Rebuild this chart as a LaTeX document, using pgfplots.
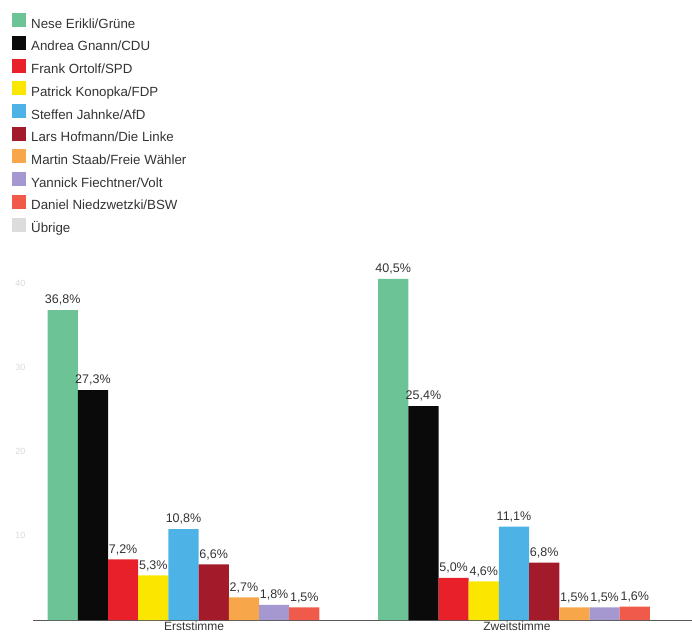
\documentclass[border=0pt]{standalone}
\usepackage{pgfplots}
\pgfplotsset{compat=1.18}
\usepackage{fontspec}
\setmainfont{Liberation Sans}

\definecolor{gruene}{HTML}{6CC396}
\definecolor{cdu}{HTML}{0A0A0A}
\definecolor{spd}{HTML}{E8202A}
\definecolor{fdp}{HTML}{FBE600}
\definecolor{afd}{HTML}{4DB3E6}
\definecolor{linke}{HTML}{A31B2B}
\definecolor{fw}{HTML}{F7A64A}
\definecolor{volt}{HTML}{A597CF}
\definecolor{bsw}{HTML}{EF5A4A}
\definecolor{uebrige}{HTML}{DCDCDC}
\definecolor{txt}{HTML}{333333}

\begin{document}
\begin{tikzpicture}
\begin{axis}[
    scale only axis,
    width=659pt, height=360pt,
    xmin=-0.4554, xmax=1.5386,
    ymin=0, ymax=42.75,
    ybar=0pt,
    bar width=30.2pt,
    clip=false,
    /pgf/number format/assume math mode=true,
    axis x line=bottom,
    axis y line=left,
    x axis line style={draw=black!65, line width=1pt, -},
    y axis line style={draw=none},
    major tick length=0pt,
    xtick={0.032,1.009},
    xticklabels={Erststimme, Zweitstimme},
    xticklabel style={font=\fontsize{12}{12}\selectfont, text=txt, yshift=2pt},
    ytick={10,20,30,40},
    yticklabel style={font=\fontsize{9}{9}\selectfont, text=black!15},
    yticklabel shift=4pt,
    nodes near coords={\pgfmathprintnumber[use comma,fixed,fixed zerofill,precision=1,assume math mode=true]{\pgfplotspointmeta}\%},
    every node near coord/.append style={font=\fontsize{12.5}{12.5}\selectfont, text=txt, yshift=1pt},
    legend cell align=left,
    legend image code/.code={\fill[#1] (0pt,-2.5pt) rectangle (14pt,11.5pt); \path (18pt,0pt);},
    legend style={
        at={(axis description cs:-0.0319,1.686)}, anchor=north west,
        draw=none, fill=none, inner sep=0pt,
        font=\fontsize{13.3}{13.3}\selectfont, text=txt,
        row sep=3.7pt,
        nodes={inner sep=1pt, text height=10pt, text depth=3pt},
    },
]
\addplot[fill=gruene, draw=none] coordinates {(0,36.8) (1,40.5)};
\addlegendentry{Nese Erikli/Grüne}
\addplot[fill=cdu, draw=none] coordinates {(0,27.3) (1,25.4)};
\addlegendentry{Andrea Gnann/CDU}
\addplot[fill=spd, draw=none] coordinates {(0,7.2) (1,5.0)};
\addlegendentry{Frank Ortolf/SPD}
\addplot[fill=fdp, draw=none] coordinates {(0,5.3) (1,4.6)};
\addlegendentry{Patrick Konopka/FDP}
\addplot[fill=afd, draw=none] coordinates {(0,10.8) (1,11.1)};
\addlegendentry{Steffen Jahnke/AfD}
\addplot[fill=linke, draw=none] coordinates {(0,6.6) (1,6.8)};
\addlegendentry{Lars Hofmann/Die Linke}
\addplot[fill=fw, draw=none] coordinates {(0,2.7) (1,1.5)};
\addlegendentry{Martin Staab/Freie Wähler}
\addplot[fill=volt, draw=none] coordinates {(0,1.8) (1,1.5)};
\addlegendentry{Yannick Fiechtner/Volt}
\addplot[fill=bsw, draw=none] coordinates {(0,1.5) (1,1.6)};
\addlegendentry{Daniel Niedzwetzki/BSW}
\addlegendimage{fill=uebrige, draw=none}
\addlegendentry{Übrige}
\end{axis}
\pgfresetboundingbox
\path[use as bounding box] (-33pt,-21pt) rectangle (659pt,620pt);
\end{tikzpicture}
\end{document}
